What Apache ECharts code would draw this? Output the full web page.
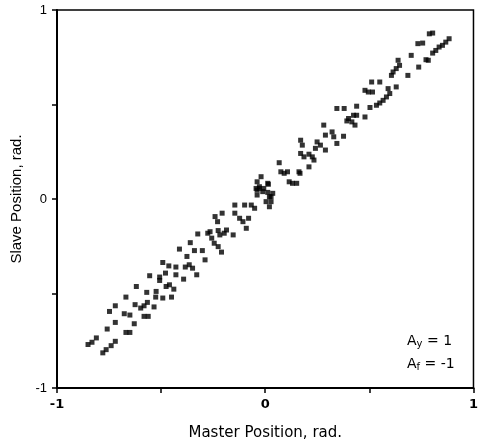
<!DOCTYPE html>
<html><head><meta charset="utf-8">
<script src="https://cdn.jsdelivr.net/npm/echarts@6/dist/echarts.min.js"></script>
<style>html,body{margin:0;padding:0;background:#fff}#c{width:481px;height:446px}</style>
</head><body><div id="c"></div>
<script>
// Master (x) and slave (y) positions, rad.
const masterPos = [
-0.851,-0.832,-0.811,-0.780,-0.764,-0.740,-0.720,-0.759,-0.720,-0.748,-0.720,-0.677,-0.650,-0.669,-0.669,-0.650,-0.629,-0.619,-0.625,-0.598,
-0.582,-0.566,-0.582,-0.562,-0.569,-0.555,-0.534,-0.526,-0.524,-0.507,-0.507,-0.492,-0.492,-0.479,-0.476,-0.460,-0.450,-0.439,-0.463,-0.429,
-0.429,-0.412,-0.392,-0.384,-0.376,-0.360,-0.365,-0.349,-0.329,-0.340,-0.324,-0.302,-0.289,-0.276,-0.265,-0.257,-0.245,-0.241,-0.229,-0.226,
-0.218,-0.226,-0.210,-0.207,-0.197,-0.186,-0.154,-0.146,-0.146,-0.123,-0.107,-0.099,-0.091,-0.080,-0.067,-0.051,-0.039,-0.039,0.004,
-0.020,-0.039,-0.044,-0.028,-0.007,0.015,0.012,0.020,0.028,0.020,
0.788,0.804,0.883,0.867,0.851,0.835,0.819,0.804,0.733,0.756,0.701,0.772,0.783,0.737,0.638,0.645,0.629,0.614,0.606,0.685,
0.511,0.550,0.629,0.590,0.479,0.495,0.515,0.598,0.582,0.566,0.550,0.534,0.503,0.439,0.479,0.344,0.379,0.424,0.400,0.416,
0.431,0.392,0.439,0.281,0.321,0.329,0.344,0.289,0.376,0.249,0.265,0.170,0.178,0.241,0.289,0.170,0.186,0.210,0.226,0.234,
0.210,0.167,0.067,0.075,0.091,0.107,0.115,0.131,0.151,0.162,0.012,-0.028,0.036,0.028,-0.012
];
const slavePos = [
-0.770,-0.758,-0.735,-0.814,-0.797,-0.776,-0.753,-0.688,-0.653,-0.595,-0.565,-0.607,-0.614,-0.519,-0.706,-0.706,-0.660,-0.463,-0.559,-0.577,
-0.565,-0.547,-0.621,-0.621,-0.494,-0.406,-0.571,-0.519,-0.489,-0.413,-0.431,-0.524,-0.336,-0.392,-0.463,-0.454,-0.519,-0.477,-0.354,-0.360,
-0.401,-0.265,-0.424,-0.360,-0.304,-0.231,-0.348,-0.366,-0.401,-0.273,-0.185,-0.273,-0.322,-0.181,-0.173,-0.207,-0.234,-0.093,-0.120,-0.167,
-0.190,-0.252,-0.281,-0.075,-0.181,-0.164,-0.190,-0.032,-0.075,-0.102,-0.120,-0.032,-0.155,-0.102,-0.032,-0.049,0.021,0.047,-0.014,
0.118,0.091,0.056,0.056,0.056,0.078,0.035,0.012,-0.014,-0.041,
0.874,0.878,0.848,0.830,0.813,0.804,0.786,0.772,0.822,0.825,0.760,0.737,0.734,0.698,0.734,0.707,0.690,0.672,0.654,0.654,
0.619,0.619,0.593,0.584,0.575,0.566,0.566,0.558,0.540,0.522,0.508,0.496,0.484,0.491,0.434,0.479,0.479,0.443,0.426,0.408,
0.391,0.413,0.443,0.391,0.355,0.329,0.294,0.338,0.332,0.302,0.285,0.311,0.285,0.268,0.259,0.241,0.223,0.237,0.223,0.206,
0.170,0.136,0.192,0.144,0.136,0.144,0.091,0.083,0.083,0.144,0.083,0.065,0.030,0.012,0.039
];
const tickLabels = ['-1','0','1'];

const pts = masterPos.map((x,i)=>[x, slavePos[i]]);
const fmt = v => { const s = String(Math.round(v*10)/10); return tickLabels.indexOf(s) >= 0 ? s : ''; };

const chart = echarts.init(document.getElementById('c'), null, {renderer:'canvas'});
chart.setOption({
  animation:false,
  backgroundColor:'#fff',
  grid:{left:57,right:3,top:10,bottom:57,show:true,borderColor:'#000',borderWidth:1.5},
  xAxis:{
    type:'value',min:-1,max:1,interval:0.5,
    name:'Master Position, rad.',nameLocation:'middle',nameGap:38,
    nameTextStyle:{fontFamily:'DejaVu Sans',fontSize:15,color:'#000'},
    axisLine:{show:true,onZero:false,lineStyle:{color:'#000',width:2}},
    axisTick:{show:true,length:5,lineStyle:{color:'#000',width:1.5}},
    axisLabel:{formatter:fmt,color:'#000',fontFamily:'DejaVu Sans',fontSize:13,fontWeight:'bold',margin:10,showMaxLabel:true,showMinLabel:true},
    splitLine:{show:false}
  },
  yAxis:{
    type:'value',min:-1,max:1,interval:0.5,
    name:'Slave Position, rad.',nameLocation:'middle',nameGap:32,
    nameTextStyle:{fontFamily:'Liberation Sans',fontSize:15,color:'#000'},
    axisLine:{show:true,onZero:false,lineStyle:{color:'#000',width:2}},
    axisTick:{show:true,length:5,lineStyle:{color:'#000',width:1.5}},
    axisLabel:{formatter:fmt,color:'#000',fontFamily:'Liberation Sans',fontSize:13,margin:10},
    splitLine:{show:false}
  },
  graphic:[
    {type:'text',left:407,top:334,style:{
      text:'{a|A}{s|y}{a| = 1}',
      rich:{a:{fontFamily:'DejaVu Sans',fontSize:14,fill:'#000'},s:{fontFamily:'DejaVu Sans',fontSize:10,fill:'#000',verticalAlign:'bottom',padding:[6,0,0,0]}}
    }},
    {type:'text',left:407,top:357,style:{
      text:'{a|A}{s|f}{a| = -1}',
      rich:{a:{fontFamily:'DejaVu Sans',fontSize:14,fill:'#000'},s:{fontFamily:'DejaVu Sans',fontSize:10,fill:'#000',verticalAlign:'bottom',padding:[6,0,0,0]}}
    }}
  ],
  series:[{
    type:'scatter',data:pts,symbol:'rect',symbolSize:5,
    itemStyle:{color:'#000'}
  }]
});
</script></body></html>
